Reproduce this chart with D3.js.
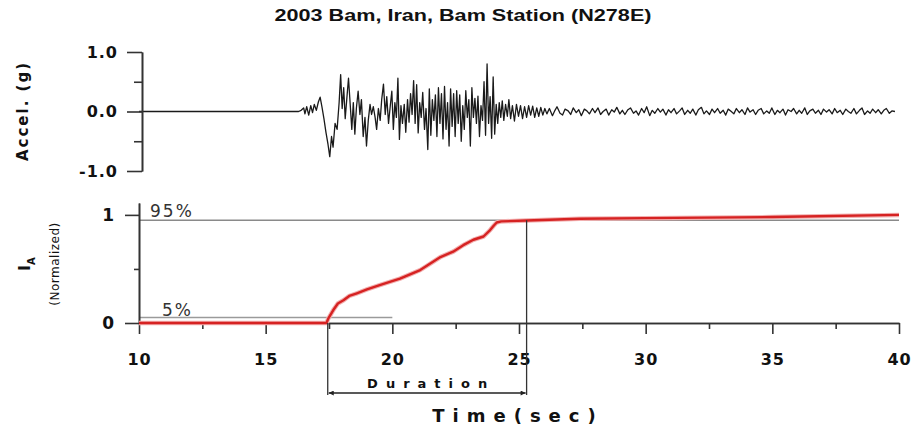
<html>
<head>
<meta charset="utf-8">
<script src="https://cdn.jsdelivr.net/npm/d3@7"></script>
<style>
body { margin: 0; background: white; }
svg text { font-family: 'DejaVu Sans', sans-serif; fill: #111; }
</style>
</head>
<body>
<svg width="914" height="429"></svg>
<script>
// acceleration record: [time (s), accel (g)]
const accelData = [
  [10, 0], [16.3, 0], [16.4, 0.02], [16.5, 0.06], [16.55, -0.04], [16.62, 0.08], [16.7, -0.06],
  [16.78, 0.1], [16.85, -0.02], [16.92, 0.12], [17.0, 0.02], [17.08, 0.16], [17.15, 0.24],
  [17.22, 0.08], [17.3, -0.12], [17.38, -0.35], [17.46, -0.55], [17.53, -0.76], [17.6, -0.42],
  [17.66, -0.6], [17.74, -0.2], [17.82, -0.3], [17.9, 0.15], [17.96, 0.62], [18.02, 0.05],
  [18.08, 0.4], [18.14, -0.12], [18.2, 0.2], [18.27, 0.56], [18.34, 0.1], [18.4, -0.3],
  [18.46, 0.15], [18.52, -0.38], [18.58, 0.05], [18.65, 0.34], [18.72, -0.05], [18.78, 0.2],
  [18.85, -0.42], [18.92, -0.1], [18.98, -0.58], [19.05, -0.15], [19.12, 0.12], [19.18, -0.05],
  [19.25, 0.08], [19.32, -0.1], [19.38, -0.3], [19.45, 0.05], [19.52, -0.15], [19.58, 0.2],
  [19.65, 0.46], [19.72, -0.05], [19.78, 0.25], [19.85, -0.2], [19.92, 0.1], [19.98, 0.34],
  [20.04, -0.3], [20.1, 0.15], [20.16, -0.1], [20.22, 0.56], [20.28, -0.47], [20.34, 0.1],
  [20.4, -0.2], [20.47, 0.12], [20.53, -0.35], [20.6, 0.2], [20.66, -0.18], [20.72, 0.3],
  [20.78, -0.05], [20.84, 0.52], [20.9, -0.2], [20.96, 0.45], [21.02, -0.36], [21.08, 0.15],
  [21.14, -0.1], [21.2, 0.32], [21.27, -0.3], [21.33, 0.05], [21.4, -0.64], [21.46, 0.38],
  [21.52, -0.4], [21.58, 0.2], [21.64, -0.15], [21.7, 0.28], [21.76, -0.42], [21.82, 0.4],
  [21.88, -0.2], [21.94, 0.3], [22.0, -0.46], [22.06, 0.42], [22.12, -0.3], [22.18, 0.15],
  [22.24, -0.58], [22.3, 0.38], [22.36, -0.25], [22.42, 0.3], [22.48, -0.42], [22.54, 0.35],
  [22.6, -0.2], [22.66, 0.28], [22.72, -0.5], [22.78, 0.1], [22.84, -0.3], [22.9, 0.35],
  [22.96, -0.1], [23.02, 0.2], [23.08, -0.58], [23.14, 0.4], [23.2, -0.1], [23.26, 0.22],
  [23.32, -0.2], [23.38, 0.26], [23.44, -0.42], [23.5, 0.1], [23.56, -0.15], [23.62, 0.5],
  [23.68, -0.4], [23.74, 0.8], [23.8, -0.2], [23.86, 0.25], [23.92, -0.45], [23.98, 0.58],
  [24.04, -0.38], [24.1, 0.12], [24.16, -0.2], [24.22, 0.15], [24.28, -0.1], [24.34, 0.18],
  [24.4, -0.15], [24.47, 0.12], [24.54, -0.08], [24.6, 0.2], [24.67, -0.12], [24.74, 0.1],
  [24.82, -0.16], [24.9, 0.12], [24.98, -0.08], [25.06, 0.1], [25.14, -0.12], [25.22, 0.08],
  [25.3, -0.1], [25.38, 0.1], [25.46, -0.06], [25.54, 0.09], [25.62, -0.1], [25.7, 0.06],
  [25.78, -0.08], [25.86, 0.07], [25.94, -0.06], [26.02, 0.05],
  [26.10, -0.04], [26.20, 0.05], [26.32, -0.07], [26.42, 0.02], [26.50, 0.08], [26.62, -0.03],
  [26.72, -0.06], [26.82, 0.04], [26.94, 0.01], [27.04, -0.05], [27.14, 0.06], [27.26, -0.02],
  [27.36, 0.03], [27.46, -0.07], [27.58, 0.04], [27.68, 0.01], [27.78, -0.04], [27.90, 0.05],
  [28.00, -0.02], [28.12, 0.06], [28.22, -0.05], [28.32, 0.00], [28.44, 0.04], [28.54, -0.06],
  [28.66, 0.03], [28.76, -0.01], [28.86, 0.07], [28.98, -0.04], [29.08, 0.02], [29.18, -0.05],
  [29.30, 0.03], [29.40, 0.06], [29.52, -0.03], [29.62, 0.01], [29.72, -0.06], [29.84, 0.05],
  [29.94, -0.02], [30.04, 0.08], [30.16, -0.07], [30.26, 0.02], [30.36, -0.03], [30.48, 0.05],
  [30.58, -0.01], [30.68, 0.04], [30.80, -0.06], [30.90, 0.03], [31.00, -0.02], [31.12, 0.05],
  [31.22, -0.04], [31.34, 0.01], [31.44, 0.06], [31.54, -0.05], [31.66, 0.02], [31.76, -0.03],
  [31.86, 0.04], [31.98, -0.06], [32.08, 0.03], [32.20, 0.07], [32.30, -0.04], [32.40, 0.01],
  [32.52, -0.05], [32.62, 0.04], [32.72, -0.02], [32.84, 0.05], [32.94, -0.03], [33.06, 0.02],
  [33.16, -0.06], [33.26, 0.04], [33.38, 0.00], [33.48, -0.04], [33.58, 0.05], [33.70, -0.02],
  [33.80, 0.03], [33.92, -0.05], [34.02, 0.06], [34.12, -0.01], [34.24, 0.03], [34.34, -0.05],
  [34.44, 0.02], [34.56, 0.05], [34.66, -0.04], [34.78, 0.01], [34.88, -0.03], [34.98, 0.06],
  [35.10, -0.05], [35.20, 0.02], [35.30, -0.02], [35.42, 0.04], [35.52, -0.06], [35.62, 0.03],
  [35.74, 0.00], [35.84, 0.05], [35.96, -0.04], [36.06, 0.02], [36.16, -0.03], [36.28, 0.06],
  [36.38, -0.05], [36.48, 0.01], [36.60, 0.04], [36.70, -0.03], [36.82, 0.02], [36.92, -0.05],
  [37.02, 0.04], [37.14, -0.01], [37.24, 0.03], [37.36, -0.04], [37.46, 0.05], [37.56, -0.02],
  [37.68, 0.02], [37.78, -0.05], [37.90, 0.04], [38.00, 0.00], [38.10, -0.03], [38.22, 0.05],
  [38.32, -0.04], [38.44, 0.02], [38.54, 0.06], [38.64, -0.05], [38.76, 0.01], [38.86, -0.03],
  [38.96, 0.04], [39.08, -0.02], [39.18, 0.03], [39.30, -0.04], [39.40, 0.02], [39.50, 0.05],
  [39.62, -0.03], [39.72, 0.01], [39.84, 0.00]
];

// normalized Arias intensity: [time (s), IA]
const ariasData = [
  [10, 0], [17.4, 0], [17.47, 0.04], [17.67, 0.12], [17.85, 0.18], [18.07, 0.21], [18.3, 0.25],
  [18.6, 0.275], [19.0, 0.31], [19.5, 0.35], [19.9, 0.38], [20.3, 0.41], [20.7, 0.45],
  [21.1, 0.49], [21.5, 0.55], [21.9, 0.61], [22.4, 0.66], [22.8, 0.72], [23.2, 0.77],
  [23.6, 0.8], [23.86, 0.86], [24.0, 0.9], [24.12, 0.93], [24.3, 0.94], [25.3, 0.948],
  [26.2, 0.955], [27.4, 0.965], [30, 0.97], [35, 0.98], [40, 1.0]
];

const t5 = 17.45, t95 = 25.3;   // 5% and 95% times
const xTicks = [10, 15, 20, 25, 30, 35, 40];
const xMinor = [12.5, 17.5, 22.5, 27.5, 32.5, 37.5];
const accTicks = [-1, 0, 1];
const accMinor = [-0.5, 0.5];
const iaTicks = [0, 1];
const iaMinor = [0.5];

const svg = d3.select("svg");

const x = d3.scaleLinear().domain([10, 40]).range([139, 899]);
const yAcc = d3.scaleLinear().domain([-1, 1]).range([171, 52]);
const yIA = d3.scaleLinear().domain([0, 1.11]).range([323, 203]);

// title
svg.append("text")
  .attr("x", 463).attr("y", 21)
  .attr("text-anchor", "middle")
  .attr("textLength", 377).attr("lengthAdjust", "spacingAndGlyphs")
  .style("font-family", "'Liberation Sans', Arial, sans-serif")
  .style("font-weight", "bold").style("font-size", "17px")
  .text("2003 Bam, Iran, Bam Station (N278E)");

// ---- top panel: acceleration ----
const accLine = d3.line().x(d => x(d[0])).y(d => yAcc(d[1]));
svg.append("path")
  .datum(accelData)
  .attr("d", accLine)
  .attr("fill", "none")
  .attr("stroke", "#1a1a1a")
  .attr("stroke-width", 1.3)
  .attr("stroke-linejoin", "round");

const accAxis = svg.append("g")
  .attr("transform", "translate(142,0)")
  .call(d3.axisLeft(yAcc).tickValues(accTicks).tickSize(15).tickSizeOuter(0)
    .tickPadding(9).tickFormat(d => d.toFixed(1)));
svg.append("g")
  .attr("transform", "translate(142,0)")
  .call(d3.axisLeft(yAcc).tickValues(accMinor).tickSize(8).tickSizeOuter(0).tickFormat(""));

accAxis.selectAll("text")
  .style("font-size", "16px").style("font-weight", "bold").style("letter-spacing", "1px");

svg.append("text")
  .attr("transform", "translate(28,111) rotate(-90)")
  .attr("text-anchor", "middle")
  .style("font-size", "15px").style("font-weight", "bold").style("letter-spacing", "2px")
  .text("Accel. (g)");

// ---- bottom panel: Arias intensity ----
svg.append("line")
  .attr("x1", x(10)).attr("x2", x(40))
  .attr("y1", yIA(0.95)).attr("y2", yIA(0.95))
  .attr("stroke", "#8a8a8a").attr("stroke-width", 1.5);
svg.append("line")
  .attr("x1", x(10)).attr("x2", x(20))
  .attr("y1", yIA(0.05)).attr("y2", yIA(0.05))
  .attr("stroke", "#9a9a9a").attr("stroke-width", 1.5);

svg.append("text")
  .attr("x", x(10) + 11).attr("y", yIA(0.95) - 3)
  .style("font-size", "17px").style("letter-spacing", "2px").style("fill", "#333")
  .text("95%");
svg.append("text")
  .attr("x", x(10) + 23).attr("y", yIA(0.05) - 2)
  .style("font-size", "17px").style("letter-spacing", "2px").style("fill", "#333")
  .text("5%");

const xAxis = svg.append("g")
  .attr("transform", "translate(0,323)")
  .call(d3.axisBottom(x).tickValues(xTicks).tickSize(11).tickSizeOuter(0).tickPadding(20));
svg.append("g")
  .attr("transform", "translate(0,323)")
  .call(d3.axisBottom(x).tickValues(xMinor).tickSize(6).tickSizeOuter(0).tickFormat(""));
xAxis.selectAll("text")
  .style("font-size", "16px").style("font-weight", "bold").style("letter-spacing", "1px");

const iaAxis = svg.append("g")
  .attr("transform", "translate(139,0)")
  .call(d3.axisLeft(yIA).tickValues(iaTicks).tickSize(14).tickSizeOuter(0).tickPadding(11)
    .tickFormat(d3.format("d")));
svg.append("g")
  .attr("transform", "translate(139,0)")
  .call(d3.axisLeft(yIA).tickValues(iaMinor).tickSize(5).tickSizeOuter(0).tickFormat(""));
iaAxis.selectAll("text")
  .style("font-size", "17px").style("font-weight", "bold");

svg.selectAll(".domain, .tick line").attr("stroke", "#333").attr("stroke-width", 1.6);

const iaLine = d3.line().x(d => x(d[0])).y(d => yIA(d[1]));
svg.append("path")
  .datum(ariasData)
  .attr("d", iaLine)
  .attr("fill", "none")
  .attr("stroke", "#f2b0b0")
  .attr("stroke-width", 4.5);
svg.append("path")
  .datum(ariasData)
  .attr("d", iaLine)
  .attr("fill", "none")
  .attr("stroke", "#d62222")
  .attr("stroke-width", 2.4)
  .attr("stroke-linejoin", "round");

const iaLabel = svg.append("text")
  .attr("transform", "translate(30,264) rotate(-90)")
  .attr("text-anchor", "middle")
  .style("font-size", "15px").style("font-weight", "bold");
iaLabel.append("tspan").text("I");
iaLabel.append("tspan").attr("dy", 5).style("font-size", "10px").text("A");

svg.append("text")
  .attr("transform", "translate(59,264) rotate(-90)")
  .attr("text-anchor", "middle")
  .style("font-size", "12px").style("letter-spacing", "0.5px")
  .text("(Normalized)");

// ---- duration bracket ----
const yArrow = 393;
svg.append("defs").selectAll("marker")
  .data(["start", "end"])
  .enter().append("marker")
  .attr("id", d => "arrow-" + d)
  .attr("viewBox", "0 0 10 10")
  .attr("refX", d => d === "end" ? 10 : 0).attr("refY", 5)
  .attr("markerWidth", 7).attr("markerHeight", 5)
  .attr("markerUnits", "userSpaceOnUse")
  .attr("orient", "auto")
  .append("path")
  .attr("d", d => d === "end" ? "M0,0 L10,5 L0,10 z" : "M10,0 L0,5 L10,10 z")
  .attr("fill", "#222");

svg.append("line")
  .attr("x1", x(t5)).attr("x2", x(t5))
  .attr("y1", yIA(0)).attr("y2", yArrow + 2)
  .attr("stroke", "#333").attr("stroke-width", 1.3);
svg.append("line")
  .attr("x1", x(t95)).attr("x2", x(t95))
  .attr("y1", yIA(0.95)).attr("y2", yArrow + 2)
  .attr("stroke", "#333").attr("stroke-width", 1.3);
svg.append("line")
  .attr("x1", x(t5) + 1).attr("x2", x(t95) - 1)
  .attr("y1", yArrow).attr("y2", yArrow)
  .attr("stroke", "#222").attr("stroke-width", 1.3)
  .attr("marker-start", "url(#arrow-start)")
  .attr("marker-end", "url(#arrow-end)");

svg.append("text")
  .attr("x", (x(t5) + x(t95)) / 2 + 4).attr("y", 388)
  .attr("text-anchor", "middle")
  .style("font-size", "13px").style("font-weight", "bold").style("letter-spacing", "8px")
  .text("Duration");

svg.append("text")
  .attr("x", 518).attr("y", 422)
  .attr("text-anchor", "middle")
  .style("font-size", "18px").style("font-weight", "bold").style("letter-spacing", "8px")
  .text("Time(sec)");
</script>
</body>
</html>
